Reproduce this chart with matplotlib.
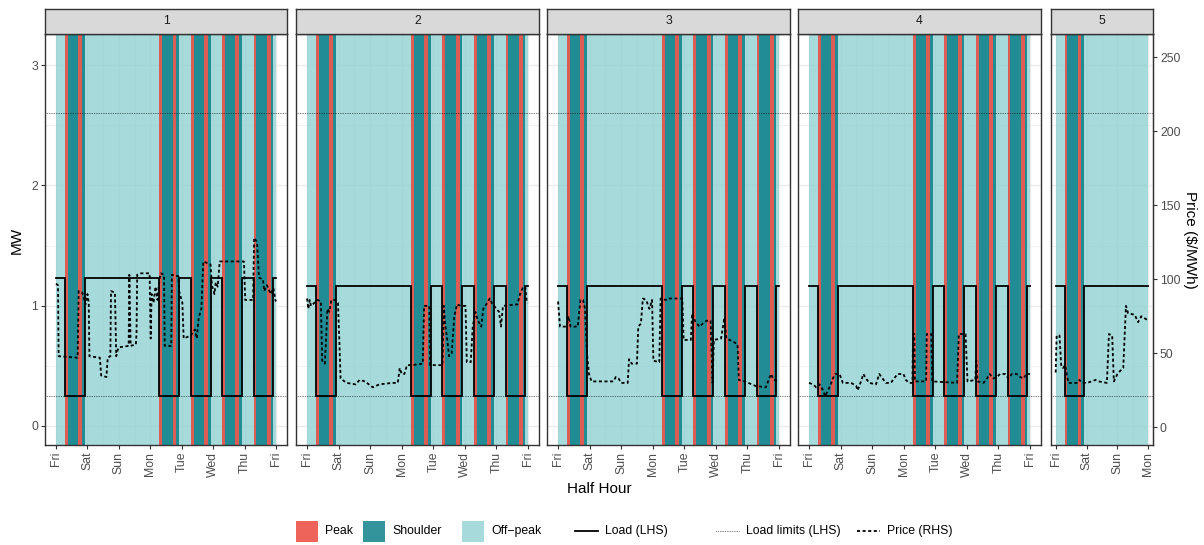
import matplotlib
matplotlib.use("Agg")
import matplotlib.pyplot as plt
from matplotlib.patches import Rectangle
from matplotlib.lines import Line2D

plt.rcParams['font.family'] = ['Liberation Sans', 'DejaVu Sans']

# ---------------- data ----------------
panel_names = ['1', '2', '3', '4', '5']
panel_days = [['Fri', 'Sat', 'Sun', 'Mon', 'Tue', 'Wed', 'Thu', 'Fri']] * 4 + [['Fri', 'Sat', 'Sun', 'Mon']]
weekend_days = ['Sat', 'Sun']
load_high = [1.23, 1.16, 1.16, 1.16, 1.16]
load_low = 0.25
load_limits = [0.25, 2.6]
load_low_hours = (7, 22)
peak_hours = [(7, 9), (17, 20)]
shoulder_hours = [(9, 17), (20, 22)]
price_scale = 81.25      # $/MWh per MW on the secondary axis
price_offset = 0.011

p1_hours = [0, 1.5, 2, 16.5, 17.3, 20, 21, 22.5, 24, 25, 25.5, 33.5, 34.5, 38.5, 39.5, 41.5, 42, 45, 46, 47,
            48, 55.5, 56, 57, 61, 61.5, 62, 65, 71.5, 72.3, 73, 74.5, 76, 77.5, 79, 80, 82.5, 83, 88, 88.5,
            93.5, 94, 96.5, 97.5, 103, 106, 107.5, 109, 111, 112.5, 118, 119, 121, 122, 123.5, 125, 143.5,
            144.5, 150.5, 151.3, 153.5, 155, 158, 159, 161, 164, 166, 167.5, 168]
p1_price = [97, 96, 48, 47, 92, 91, 88, 83, 90, 84, 48, 47, 35, 34, 47, 48, 92, 91, 48, 52,
            54, 55, 103, 55, 56, 64, 103, 104, 104, 60, 90, 84, 95, 86, 100, 104, 103, 55, 55, 103,
            102, 92, 84, 60, 62, 66, 60, 74, 80, 112, 110, 96, 90, 98, 95, 112, 112,
            86, 86, 128, 125, 101, 100, 92, 96, 90, 94, 86, 85]

p2_hours = [0, 1, 2, 3, 8, 10.5, 11.5, 13.5, 14.5, 15.5, 17, 18.5, 21, 23.5, 24.5, 25.5, 30, 37, 40, 44,
            47, 50, 55, 65, 69, 70.5, 72, 74, 76, 80, 88, 89, 93, 93.5, 103, 104, 105, 106.5, 108, 110,
            112, 114, 117, 120.5, 121.5, 124.5, 126, 128, 130, 132.5, 134, 137, 139, 140.5, 144, 146,
            147.5, 149, 160, 162, 164, 166, 167, 168]
p2_price = [87, 80, 86, 82, 86, 85, 45, 43, 60, 80, 78, 86, 86, 84, 60, 33, 30, 29, 32, 31,
            29, 27, 29, 30, 30, 40, 36, 36, 42, 42, 43, 82, 82, 42, 42, 82, 70, 60, 48, 50,
            75, 83, 82, 82, 44, 44, 68, 78, 72, 68, 80, 84, 87, 84, 80, 78,
            68, 82, 83, 90, 94, 95, 85, 84]

p3_hours = [0, 1.5, 6.5, 8, 9.5, 15, 17, 19, 20.5, 22, 23.5, 25.5, 42, 44, 46, 48, 53, 54, 56, 60,
            61, 63, 64.5, 67, 69.5, 71.5, 72.5, 77, 78, 82, 83, 94.5, 95.5, 101, 102, 104, 107.5, 110,
            113, 116, 117.5, 118.5, 124, 126.5, 128, 133, 136.5, 137.5, 142, 150, 158, 161, 162, 164, 168]
p3_price = [85, 68, 68, 75, 68, 68, 86, 86, 80, 50, 36, 31, 31, 34, 33, 30, 30, 46, 43, 43,
            68, 70, 87, 86, 80, 86, 45, 44, 87, 86, 87, 87, 59, 59, 77, 72, 68, 70,
            72, 72, 30, 59, 60, 74, 60, 58, 56, 32, 31, 28, 27, 34, 36, 32, 31]

p4_hours = [0, 3, 5.5, 8, 10.6, 12.3, 14.4, 16.1, 18.1, 19.9, 23.2, 25.7, 32, 35.8, 37, 39.5, 41.3, 43.3,
            45.8, 50.9, 53.4, 55.9, 58.4, 62.2, 64.7, 67.3, 71.8, 73.6, 76.1, 78.6, 79.1, 80, 80.5, 89,
            89.5, 93, 93.7, 112.6, 113.9, 119, 120.5, 126.4, 127.2, 128.2, 132.7, 135.3, 137.3, 140.3,
            142.8, 145.3, 149.1, 151.6, 154.2, 157.9, 160.5, 163, 165.5, 168]
p4_price = [30, 29, 27, 29, 25, 21, 25, 28, 33, 36, 36, 30, 30, 28, 25, 31, 36, 33,
            30, 29, 36, 33, 30, 30, 33, 36, 36, 32, 30, 30, 63, 63, 31, 31,
            63, 63, 31, 30, 63, 63, 31, 32, 45, 31, 30, 33, 36, 33,
            34, 36, 36, 33, 36, 36, 34, 33, 36, 36]

p5_hours = [0, 0.8, 3, 4.3, 5.6, 7.4, 8.6, 9.9, 17, 18.5, 20.8, 24.6, 31, 33.5, 39.8, 41.4, 43.9, 45.2,
            48, 50, 52.5, 54.6, 56.3, 61.4, 64, 66.5, 70.3, 72]
p5_price = [37, 62, 62, 42, 40, 42, 36, 30, 30, 32, 30, 30, 32, 31, 30, 63, 62, 31,
            36, 38, 40, 82, 77, 76, 71, 75, 73, 72]

price_hours = [p1_hours, p2_hours, p3_hours, p4_hours, p5_hours]
price_values = [p1_price, p2_price, p3_price, p4_price, p5_price]

# ---------------- style ----------------
col_peak = '#EC3D31'
col_shoulder = '#017984'
col_offpeak = '#90D1D2'
fill_alpha = 0.8
grid_col = '#EBEBEB'
frame_col = '#333333'
tick_col = '#4D4D4D'
price_ls = (0, (1.7, 1.4))
limit_ls = (0, (1, 1.5))

W, H = 1204, 545
fig = plt.figure(figsize=(W / 100, H / 100), dpi=100)

panel_left = [45, 296, 547, 798, 1051]
panel_width = [242, 243, 243, 243, 102]
panel_top, panel_bottom = 34, 445
strip_top = 9
ymin, ymax = -0.158, 3.258


def frac(x0, y0, w, h):
    return [x0 / W, 1 - (y0 + h) / H, w / W, h / H]


def mw_to_price(m):
    return (m + price_offset) * price_scale


def price_to_mw(p):
    return p / price_scale - price_offset


for i, name in enumerate(panel_names):
    days = panel_days[i]
    end = (len(days) - 1) * 24
    ax = fig.add_axes(frac(panel_left[i], panel_top, panel_width[i], panel_bottom - panel_top))
    ax.set_xlim(-0.05 * end, 1.05 * end)
    ax.set_ylim(ymin, ymax)
    ax.set_facecolor('white')
    ax.set_axisbelow(True)

    ax.set_xticks([24 * k for k in range(len(days))])
    ax.set_xticklabels(days, rotation=90, fontsize=8.8, color=tick_col)
    ax.set_xticks([24 * k + 12 for k in range(len(days) - 1)], minor=True)
    ax.set_yticks([0, 1, 2, 3])
    ax.set_yticks([0.5, 1.5, 2.5], minor=True)
    ax.grid(which='major', color=grid_col, lw=1.0)
    ax.grid(which='minor', color=grid_col, lw=0.5)
    ax.tick_params(which='minor', length=0)
    ax.tick_params(which='major', length=3, width=0.8, color=frame_col, pad=2)
    if i == 0:
        ax.set_yticklabels(['0', '1', '2', '3'], fontsize=8.8, color=tick_col)
    else:
        ax.tick_params(axis='y', which='both', left=False, labelleft=False)
    for s in ax.spines.values():
        s.set_color(frame_col)
        s.set_linewidth(1.0)

    # tariff periods
    ax.add_patch(Rectangle((0, ymin), end, ymax - ymin, fc=col_offpeak, alpha=fill_alpha, lw=0, zorder=1))
    for k, d in enumerate(days[:-1]):
        if d in weekend_days:
            continue
        for a, b in peak_hours:
            ax.add_patch(Rectangle((24 * k + a, ymin), b - a, ymax - ymin, fc=col_peak,
                                   alpha=fill_alpha, lw=0, zorder=1.1))
        for a, b in shoulder_hours:
            ax.add_patch(Rectangle((24 * k + a, ymin), b - a, ymax - ymin, fc=col_shoulder,
                                   alpha=fill_alpha, lw=0, zorder=1.1))

    # load limits
    for lim in load_limits:
        ax.axhline(lim, color='black', lw=0.5, ls=limit_ls, zorder=2)

    # load step line
    lx, ly = [0], [load_high[i]]
    for k, d in enumerate(days[:-1]):
        if d in weekend_days:
            continue
        t0, t1 = 24 * k + load_low_hours[0], 24 * k + load_low_hours[1]
        lx += [t0, t0, t1, t1]
        ly += [load_high[i], load_low, load_low, load_high[i]]
    lx.append(end)
    ly.append(load_high[i])
    ax.plot(lx, ly, color='black', lw=1.3, zorder=3, solid_joinstyle='miter')

    # price
    ax.plot(price_hours[i], [price_to_mw(p) for p in price_values[i]], color='black', lw=1.3,
            ls=price_ls, zorder=4)

    if i == len(panel_names) - 1:
        sec = ax.secondary_yaxis('right', functions=(mw_to_price, price_to_mw))
        sec.set_yticks([0, 50, 100, 150, 200, 250])
        sec.set_yticklabels(['0', '50', '100', '150', '200', '250'], fontsize=8.8, color=tick_col)
        sec.tick_params(length=3, width=0.8, color=frame_col, pad=2)
        sec.spines['right'].set_color(frame_col)

    # strip
    sax = fig.add_axes(frac(panel_left[i], strip_top, panel_width[i], panel_top - strip_top))
    sax.set_facecolor('#D9D9D9')
    sax.set_xticks([])
    sax.set_yticks([])
    for s in sax.spines.values():
        s.set_color(frame_col)
        s.set_linewidth(1.0)
    sax.text(0.5, 0.5, name, ha='center', va='center', fontsize=8.8, color='#1A1A1A',
             transform=sax.transAxes)

# ---------------- overlay: titles and legend ----------------
oax = fig.add_axes([0, 0, 1, 1], zorder=-1)
oax.set_xlim(0, W)
oax.set_ylim(H, 0)
oax.axis('off')

oax.text(17, 240, 'MW', rotation=90, ha='center', va='center', fontsize=11)
oax.text(599, 489, 'Half Hour', ha='center', va='center', fontsize=11)
oax.text(1190, 240, 'Price ($/MWh)', rotation=-90, ha='center', va='center', fontsize=11)

legend_y = 531
fill_items = [('Peak', col_peak, 296), ('Shoulder', col_shoulder, 363), ('Off\u2212peak', col_offpeak, 462)]
for label, c, x0 in fill_items:
    oax.add_patch(Rectangle((x0, legend_y - 10.5), 22, 21, fc=c, alpha=fill_alpha, lw=0))
    oax.text(x0 + 29, legend_y, label, ha='left', va='center', fontsize=8.8)

line_items = [('Load (LHS)', '-', 1.3, 575), ('Load limits (LHS)', limit_ls, 0.5, 716),
              ('Price (RHS)', price_ls, 1.3, 857)]
for label, ls, lw, x0 in line_items:
    oax.add_line(Line2D([x0, x0 + 23], [legend_y, legend_y], color='black', lw=lw, ls=ls))
    oax.text(x0 + 30, legend_y, label, ha='left', va='center', fontsize=8.8)

fig.savefig('out.png', dpi=100)
